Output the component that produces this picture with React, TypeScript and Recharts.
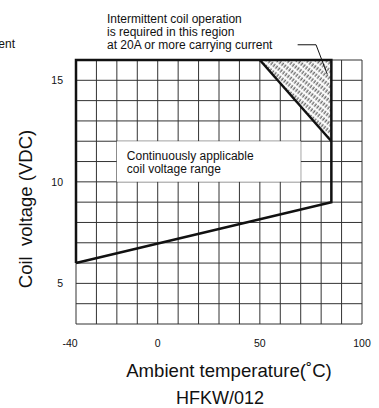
import {
  ComposedChart,
  Line,
  Area,
  XAxis,
  YAxis,
  CartesianGrid,
  ReferenceArea,
  ReferenceLine,
} from 'recharts';

const tempTicks = [-40, -30, -20, -10, 0, 10, 20, 30, 40, 50, 60, 70, 80, 90, 100];
const tempLabels = [-40, 0, 50, 100];
const voltTicks = [3, 4, 5, 6, 7, 8, 9, 10, 11, 12, 13, 14, 15, 16];
const voltLabels = [5, 10, 15];

// outline of the usable region (temperature, voltage)
const boundary = [
  { t: -40, v: 6 },
  { t: -40, v: 16 },
  { t: 85, v: 16 },
  { t: 85, v: 9 },
  { t: -40, v: 6 },
];
const diagonal = [
  { t: 50, v: 16 },
  { t: 85, v: 12 },
];
const intermittent = [
  { t: 50, range: [16, 16] },
  { t: 85, range: [12, 16] },
];
const leader = [
  { t: 68.5, v: 16.75 },
  { t: 77.5, v: 16.75 },
  { t: 83, v: 15.3 },
];
const boxTemp = [-20, 70];
const boxVolt = [10, 12];
const noteLines = [
  'Intermittent coil operation',
  'is required in this region',
  'at 20A or more carrying current',
];
const boxLines = ['Continuously applicable', 'coil voltage range'];

const FONT = '"Liberation Sans", Arial, sans-serif';

function TempTick(props: any) {
  const { x, y, payload } = props;
  if (!tempLabels.includes(payload.value)) return null;
  // the -40 label sits a little left of its grid line in the original
  const dx = payload.value === -40 ? -6 : 0;
  return (
    <text x={x + dx} y={y} dy="0.71em" textAnchor="middle" fontSize={10.5} fill="#111">
      {payload.value}
    </text>
  );
}

export default function App() {
  return (
    <div
      style={{
        position: 'absolute',
        left: 0,
        top: 0,
        width: 379,
        height: 408,
        overflow: 'hidden',
        fontFamily: FONT,
        background: '#fff',
      }}
    >
      <div
        style={{
          position: 'absolute',
          right: 364,
          top: 38,
          fontSize: 12,
          lineHeight: '13px',
          whiteSpace: 'nowrap',
          color: '#111',
        }}
      >
        current
      </div>
      <div
        style={{
          position: 'absolute',
          left: 107,
          top: 13,
          fontSize: 12,
          lineHeight: '13px',
          whiteSpace: 'nowrap',
          color: '#111',
        }}
      >
        {noteLines.map((l) => (
          <div key={l}>{l}</div>
        ))}
      </div>
      <ComposedChart
        width={379}
        height={408}
        margin={{ top: 60, right: 17, left: 0, bottom: 0 }}
        style={{ fontFamily: FONT }}
      >
        <defs>
          <pattern
            id="hatch"
            patternUnits="userSpaceOnUse"
            width={3}
            height={6}
            patternTransform="rotate(38)"
          >
            <rect width={3} height={6} fill="#fff" />
            <line x1={1.2} y1={0.8} x2={1.2} y2={4.6} stroke="#111" strokeWidth={0.9} />
          </pattern>
        </defs>
        <CartesianGrid stroke="#333" strokeWidth={1} strokeOpacity={1} />
        <XAxis
          type="number"
          dataKey="t"
          domain={[-40, 100]}
          ticks={tempTicks}
          interval={0}
          height={84}
          axisLine={false}
          tickLine={false}
          tickSize={6}
          tickMargin={10}
          tick={<TempTick />}
          label={(props: any) => {
            const vb = props.viewBox;
            return (
              <g>
                <text
                  x={229}
                  y={vb.y + 53}
                  textAnchor="middle"
                  fontSize={18.6}
                  fill="#111"
                >
                  Ambient temperature(˚C)
                </text>
                <text
                  x={220}
                  y={vb.y + 80}
                  textAnchor="middle"
                  fontSize={18}
                  fill="#111"
                >
                  HFKW/012
                </text>
              </g>
            );
          }}
        />
        <YAxis
          type="number"
          dataKey="v"
          domain={[3, 16]}
          ticks={voltTicks}
          interval={0}
          width={76}
          axisLine={false}
          tickLine={false}
          tickSize={6}
          tickMargin={7}
          tick={{ fill: '#111', fontSize: 10.5 }}
          tickFormatter={(v: number) => (voltLabels.includes(v) ? String(v) : '')}
          label={() => (
            <text
              x={32}
              y={209}
              transform="rotate(-90 32 209)"
              textAnchor="middle"
              fontSize={18.5}
              fill="#111"
              style={{ whiteSpace: 'pre' }}
            >
              {'Coil  voltage (VDC)'}
            </text>
          )}
        />
        <ReferenceArea
          x1={boxTemp[0]}
          x2={boxTemp[1]}
          y1={boxVolt[0]}
          y2={boxVolt[1]}
          fill="#fff"
          fillOpacity={1}
          stroke="none"
          label={(props: any) => {
            const vb = props.viewBox;
            return (
              <g>
                {boxLines.map((l, i) => (
                  <text
                    key={l}
                    x={vb.x + 10}
                    y={vb.y + 19 + i * 13}
                    fontSize={12}
                    fill="#111"
                  >
                    {l}
                  </text>
                ))}
              </g>
            );
          }}
        />
        <Area
          data={intermittent}
          dataKey="range"
          type="linear"
          stroke="none"
          fill="url(#hatch)"
          fillOpacity={1}
          isAnimationActive={false}
        />
        <Line
          data={boundary}
          dataKey="v"
          type="linear"
          stroke="#111"
          strokeWidth={2.5}
          strokeLinejoin="miter"
          dot={false}
          activeDot={false}
          isAnimationActive={false}
        />
        <Line
          data={diagonal}
          dataKey="v"
          type="linear"
          stroke="#111"
          strokeWidth={2.5}
          dot={false}
          activeDot={false}
          isAnimationActive={false}
        />
        <ReferenceLine
          segment={[
            { x: leader[0].t, y: leader[0].v },
            { x: leader[1].t, y: leader[1].v },
          ]}
          stroke="#111"
          strokeWidth={1}
          ifOverflow="visible"
        />
        <ReferenceLine
          segment={[
            { x: leader[1].t, y: leader[1].v },
            { x: leader[2].t, y: leader[2].v },
          ]}
          stroke="#111"
          strokeWidth={1}
          ifOverflow="visible"
        />
      </ComposedChart>
    </div>
  );
}
